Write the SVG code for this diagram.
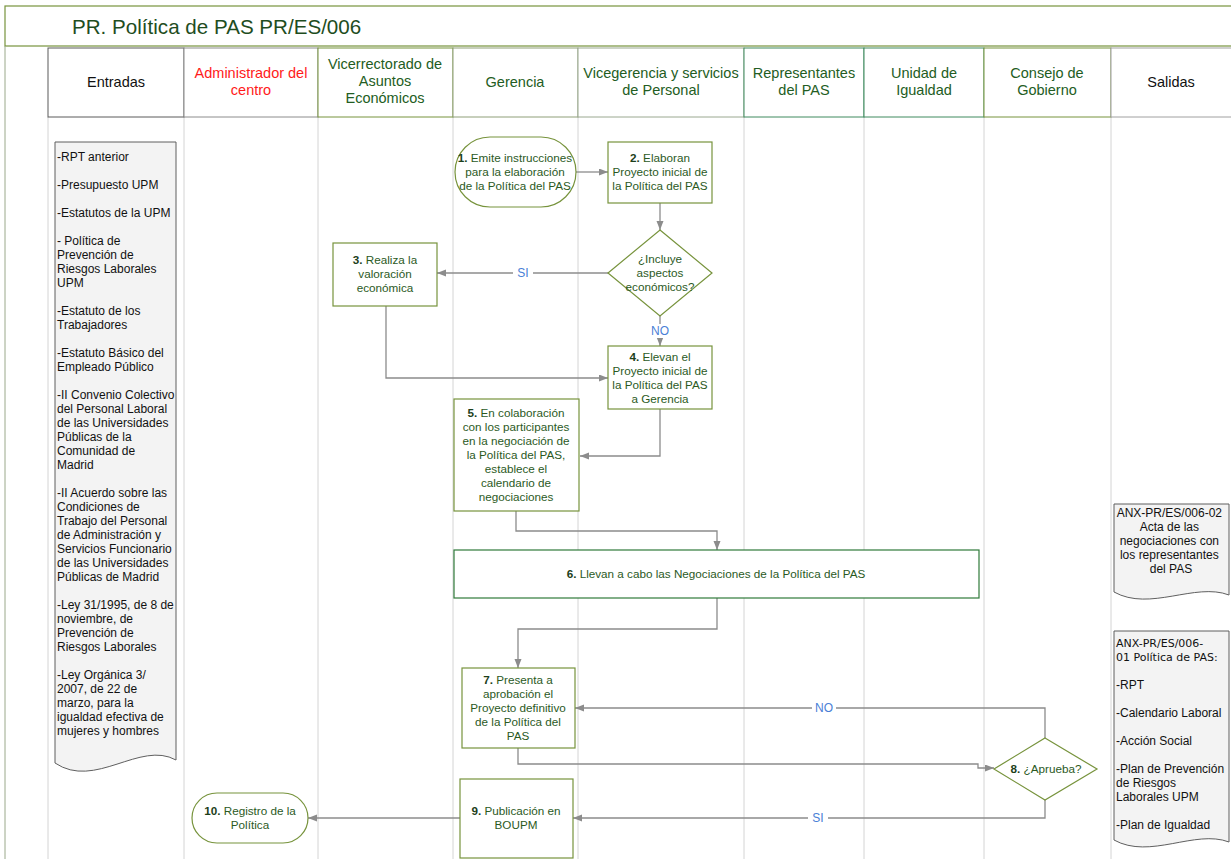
<svg xmlns="http://www.w3.org/2000/svg" width="1231" height="859" viewBox="0 0 1231 859">
<style>
.lane{stroke:#d4d4d4;stroke-width:1;fill:none}
.hd{font-family:"Liberation Sans",Arial,sans-serif;font-size:14.5px;text-anchor:middle;fill:#235d23}
.node{fill:#fff;stroke:#77933c;stroke-width:1.2}
.nt{font-family:"Liberation Sans",Arial,sans-serif;font-size:11.7px;text-anchor:middle;fill:#2b5a1e}
.nt .b{font-weight:bold;fill:#1c401a}
.doc{fill:#f3f3f3;stroke:#5f5f5f;stroke-width:1}
.dt{font-family:"Liberation Sans",Arial,sans-serif;font-size:12px;fill:#111}
.dv{font-family:"DejaVu Sans",Verdana,sans-serif;font-size:11px;fill:#111}
.con{fill:none;stroke:#8c8c8c;stroke-width:1.3}
.lbl{font-family:"Liberation Sans",Arial,sans-serif;font-size:12px;text-anchor:middle;fill:#4a80d6}
</style>
<defs>
<marker id="ah" markerUnits="userSpaceOnUse" markerWidth="10" markerHeight="8" refX="9" refY="3.5" orient="auto">
<path d="M0,0 L9,3.5 L0,7 z" fill="#8c8c8c"/>
</marker>
</defs>
<rect width="1231" height="859" fill="#fff"/>
<g id="title">
<rect x="5" y="6" width="1232" height="40" fill="#fff" stroke="#77933c" stroke-width="1.2"/>
<line x1="5" y1="46" x2="5" y2="859" stroke="#9aa88a" stroke-width="1"/>
<text x="72" y="34" font-family="'Liberation Sans',Arial,sans-serif" font-size="20.6" fill="#1e4d1e">PR. Política de PAS PR/ES/006</text>
</g>
<g id="lanes">
<line class="lane" x1="48" y1="117" x2="48" y2="859"/>
<line class="lane" x1="184" y1="117" x2="184" y2="859"/>
<line class="lane" x1="318" y1="117" x2="318" y2="859"/>
<line class="lane" x1="453" y1="117" x2="453" y2="859"/>
<line class="lane" x1="578" y1="117" x2="578" y2="859"/>
<line class="lane" x1="744" y1="117" x2="744" y2="859"/>
<line class="lane" x1="864" y1="117" x2="864" y2="859"/>
<line class="lane" x1="984" y1="117" x2="984" y2="859"/>
<line class="lane" x1="1111" y1="117" x2="1111" y2="859"/>
</g>
<g id="header">
<rect x="48" y="48" width="136" height="69" fill="#fff" stroke="#5a5a5a"/>
<rect x="184" y="48" width="134" height="69" fill="#fff" stroke="#8c8c8c"/>
<rect x="318" y="48" width="135" height="69" fill="#fff" stroke="#77933c"/>
<rect x="453" y="48" width="125" height="69" fill="#fff" stroke="#8f9f78"/>
<rect x="578" y="48" width="166" height="69" fill="#fff" stroke="#9aa890"/>
<rect x="744" y="48" width="120" height="69" fill="#fff" stroke="#3f8a5f"/>
<rect x="864" y="48" width="120" height="69" fill="#fff" stroke="#3f8a5f"/>
<rect x="984" y="48" width="127" height="69" fill="#fff" stroke="#77933c"/>
<rect x="1111" y="48" width="121" height="69" fill="#fff" stroke="#a0a0a0"/>
<text class="hd" x="116" y="87" style="fill:#111">Entradas</text>
<text class="hd" x="251" y="78" style="fill:#ff1a1a">Administrador del</text>
<text class="hd" x="251" y="95" style="fill:#ff1a1a">centro</text>
<text class="hd" x="385" y="69">Vicerrectorado de</text>
<text class="hd" x="385" y="86">Asuntos</text>
<text class="hd" x="385" y="103">Económicos</text>
<text class="hd" x="515" y="87">Gerencia</text>
<text class="hd" x="661" y="78">Vicegerencia y servicios</text>
<text class="hd" x="661" y="95">de Personal</text>
<text class="hd" x="804" y="78">Representantes</text>
<text class="hd" x="804" y="95">del PAS</text>
<text class="hd" x="924" y="78">Unidad de</text>
<text class="hd" x="924" y="95">Igualdad</text>
<text class="hd" x="1047" y="78">Consejo de</text>
<text class="hd" x="1047" y="95">Gobierno</text>
<text class="hd" x="1171" y="87" style="fill:#111">Salidas</text>
</g>
<g id="entradas-doc">
<path class="doc" d="M55,142 H176 V760 C140,740 95,790 55,763 Z"/>
<text class="dt">
<tspan x="57" y="161">-RPT anterior</tspan>
<tspan x="57" y="189">-Presupuesto UPM</tspan>
<tspan x="57" y="217">-Estatutos de la UPM</tspan>
<tspan x="57" y="245">- Política de</tspan>
<tspan x="57" y="259">Prevención de</tspan>
<tspan x="57" y="273">Riesgos Laborales</tspan>
<tspan x="57" y="287">UPM</tspan>
<tspan x="57" y="315">-Estatuto de los</tspan>
<tspan x="57" y="329">Trabajadores</tspan>
<tspan x="57" y="357">-Estatuto Básico del</tspan>
<tspan x="57" y="371">Empleado Público</tspan>
<tspan x="57" y="399">-II Convenio Colectivo</tspan>
<tspan x="57" y="413">del Personal Laboral</tspan>
<tspan x="57" y="427">de las Universidades</tspan>
<tspan x="57" y="441">Públicas de la</tspan>
<tspan x="57" y="455">Comunidad de</tspan>
<tspan x="57" y="469">Madrid</tspan>
<tspan x="57" y="497">-II Acuerdo sobre las</tspan>
<tspan x="57" y="511">Condiciones de</tspan>
<tspan x="57" y="525">Trabajo del Personal</tspan>
<tspan x="57" y="539">de Administración y</tspan>
<tspan x="57" y="553">Servicios Funcionario</tspan>
<tspan x="57" y="567">de las Universidades</tspan>
<tspan x="57" y="581">Públicas de Madrid</tspan>
<tspan x="57" y="609">-Ley 31/1995, de 8 de</tspan>
<tspan x="57" y="623">noviembre, de</tspan>
<tspan x="57" y="637">Prevención de</tspan>
<tspan x="57" y="651">Riesgos Laborales</tspan>
<tspan x="57" y="679">-Ley Orgánica 3/</tspan>
<tspan x="57" y="693">2007, de 22 de</tspan>
<tspan x="57" y="707">marzo, para la</tspan>
<tspan x="57" y="721">igualdad efectiva de</tspan>
<tspan x="57" y="735">mujeres y hombres</tspan>
</text>
</g>
<g id="salida-acta">
<path class="doc" d="M1114,504 H1229 V595 C1195,582 1150,612 1114,592 Z"/>
<text class="dt" text-anchor="middle">
<tspan x="1171" y="517">ANX-PR/ES/006-02</tspan>
<tspan x="1171" y="531">Acta de las</tspan>
<tspan x="1171" y="545">negociaciones con</tspan>
<tspan x="1171" y="559">los representantes</tspan>
<tspan x="1171" y="573">del PAS</tspan>
</text>
</g>
<g id="salida-politica">
<path class="doc" d="M1114,631 H1229 V842 C1195,829 1150,860 1114,840 Z"/>
<text class="dv">
<tspan x="1116" y="647">ANX-PR/ES/006-</tspan>
<tspan x="1116" y="661">01 Política de PAS:</tspan>
</text>
<text class="dt">
<tspan x="1116" y="689">-RPT</tspan>
<tspan x="1116" y="717">-Calendario Laboral</tspan>
<tspan x="1116" y="745">-Acción Social</tspan>
<tspan x="1116" y="773">-Plan de Prevención</tspan>
<tspan x="1116" y="787">de Riesgos</tspan>
<tspan x="1116" y="801">Laborales UPM</tspan>
<tspan x="1116" y="829">-Plan de Igualdad</tspan>
</text>
</g>
<g id="connectors">
<path class="con" d="M576,172 H608" marker-end="url(#ah)"/>
<path class="con" d="M660,203 V230" marker-end="url(#ah)"/>
<path class="con" d="M608,273 H437" marker-end="url(#ah)"/>
<path class="con" d="M660,316 V346" marker-end="url(#ah)"/>
<path class="con" d="M386,306 V378 H608" marker-end="url(#ah)"/>
<path class="con" d="M660,409 V456 H580" marker-end="url(#ah)"/>
<path class="con" d="M516,511 V531 H717 V550" marker-end="url(#ah)"/>
<path class="con" d="M717,598 V629 H518 V668" marker-end="url(#ah)"/>
<path class="con" d="M518,748 V764 H978 V768 H994" marker-end="url(#ah)"/>
<path class="con" d="M1045,738 V708 H575" marker-end="url(#ah)"/>
<path class="con" d="M1045,800 V818 H573" marker-end="url(#ah)"/>
<path class="con" d="M460,818 H308" marker-end="url(#ah)"/>
<rect x="513" y="266" width="20" height="14" fill="#fff"/>
<text class="lbl" x="523" y="277">SI</text>
<rect x="648" y="324" width="24" height="14" fill="#fff"/>
<text class="lbl" x="660" y="335">NO</text>
<rect x="812" y="701" width="24" height="14" fill="#fff"/>
<text class="lbl" x="824" y="712">NO</text>
<rect x="808" y="811" width="20" height="14" fill="#fff"/>
<text class="lbl" x="818" y="822">SI</text>
</g>
<g id="n1">
<rect class="node" x="455" y="137" width="121" height="70" rx="35" ry="35"/>
<text class="nt"><tspan x="515" y="162"><tspan class="b">1.</tspan> Emite instrucciones</tspan><tspan x="515" y="176">para la elaboración</tspan><tspan x="515" y="190">de la Política del PAS</tspan></text>
</g>
<g id="n2">
<rect class="node" x="608" y="142" width="104" height="61"/>
<text class="nt"><tspan x="660" y="162"><tspan class="b">2.</tspan> Elaboran</tspan><tspan x="660" y="176">Proyecto inicial de</tspan><tspan x="660" y="190">la Política del PAS</tspan></text>
</g>
<g id="d1">
<polygon class="node" points="660,230 712,273 660,316 608,273"/>
<text class="nt"><tspan x="660" y="263">¿Incluye</tspan><tspan x="660" y="277">aspectos</tspan><tspan x="660" y="291">económicos?</tspan></text>
</g>
<g id="n3">
<rect class="node" x="333" y="243" width="104" height="63"/>
<text class="nt"><tspan x="385" y="264"><tspan class="b">3.</tspan> Realiza la</tspan><tspan x="385" y="278">valoración</tspan><tspan x="385" y="292">económica</tspan></text>
</g>
<g id="n4">
<rect class="node" x="608" y="346" width="104" height="63"/>
<text class="nt"><tspan x="660" y="361"><tspan class="b">4.</tspan> Elevan el</tspan><tspan x="660" y="375">Proyecto inicial de</tspan><tspan x="660" y="389">la Política del PAS</tspan><tspan x="660" y="403">a Gerencia</tspan></text>
</g>
<g id="n5">
<rect class="node" x="454" y="399" width="125" height="112"/>
<text class="nt"><tspan x="516" y="417"><tspan class="b">5.</tspan> En colaboración</tspan><tspan x="516" y="431">con los participantes</tspan><tspan x="516" y="445">en la negociación de</tspan><tspan x="516" y="459">la Política del PAS,</tspan><tspan x="516" y="473">establece el</tspan><tspan x="516" y="487">calendario de</tspan><tspan x="516" y="501">negociaciones</tspan></text>
</g>
<g id="n6">
<rect class="node" x="454" y="550" width="525" height="48" style="stroke:#2f7a3a"/>
<text class="nt"><tspan x="716" y="578"><tspan class="b">6.</tspan> Llevan a cabo las Negociaciones de la Política del PAS</tspan></text>
</g>
<g id="n7">
<rect class="node" x="462" y="668" width="113" height="80"/>
<text class="nt"><tspan x="518" y="684"><tspan class="b">7.</tspan> Presenta a</tspan><tspan x="518" y="698">aprobación el</tspan><tspan x="518" y="712">Proyecto definitivo</tspan><tspan x="518" y="726">de la Política del</tspan><tspan x="518" y="740">PAS</tspan></text>
</g>
<g id="d2">
<polygon class="node" points="1045,738 1097,769 1045,800 994,769"/>
<text class="nt"><tspan x="1046" y="773"><tspan class="b">8.</tspan> ¿Aprueba?</tspan></text>
</g>
<g id="n9">
<rect class="node" x="460" y="779" width="113" height="79"/>
<text class="nt"><tspan x="516" y="815"><tspan class="b">9.</tspan> Publicación en</tspan><tspan x="516" y="829">BOUPM</tspan></text>
</g>
<g id="n10">
<rect class="node" x="192" y="793" width="116" height="50" rx="25" ry="25"/>
<text class="nt"><tspan x="250" y="815"><tspan class="b">10.</tspan> Registro de la</tspan><tspan x="250" y="829">Política</tspan></text>
</g>
</svg>
